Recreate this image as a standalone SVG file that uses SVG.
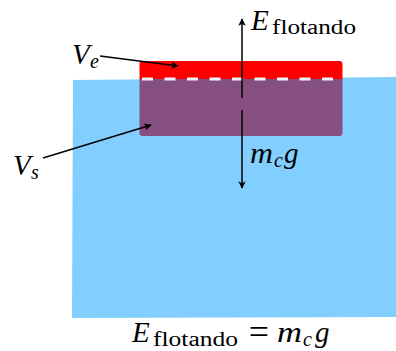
<svg xmlns="http://www.w3.org/2000/svg" width="396" height="351" viewBox="0 0 396 351">
<defs>
<style>
.m{font-family:"Liberation Serif",serif;font-style:italic;fill:#000}
.r{font-family:"Liberation Serif",serif;fill:#000}
.big{font-size:29px}
.sub{font-size:20px}
.ar{stroke:#000;stroke-width:1.5;fill:none;marker-end:url(#ah)}
</style>
<marker id="ah" viewBox="0 0 10 10" refX="9" refY="5" markerWidth="5" markerHeight="5" orient="auto" markerUnits="strokeWidth">
<path d="M0,0 L10,5 L0,10 L2.5,5 Z" fill="#000"/>
</marker>
</defs>
<g id="water">
<polygon points="73,80 396,77 396,317 72,318" fill="#82CFFF"/>
</g>
<g id="block">
<path d="M139.5,79 V64 a3,3 0 0 1 3,-3 H339.5 a3,3 0 0 1 3,3 V79 Z" fill="#FF0000"/>
<path d="M139.5,79 H342.5 V133 a3,3 0 0 1 -3,3 H142.5 a3,3 0 0 1 -3,-3 Z" fill="#854F7F"/>
<line x1="142" y1="79" x2="342" y2="79" stroke="#EEF6FF" stroke-width="3" stroke-dasharray="11,11.5"/>
</g>
<g id="connectors">
<line class="ar" x1="242" y1="98" x2="242" y2="19"/>
<line class="ar" x1="242" y1="110" x2="242" y2="188"/>
<line class="ar" x1="100" y1="56" x2="178" y2="66"/>
<line class="ar" x1="43" y1="158" x2="151" y2="125"/>
</g>
<g id="label-Ef-top">
<text class="m big" x="251" y="30">E</text>
<text class="r sub" x="272" y="34" textLength="84" lengthAdjust="spacingAndGlyphs">flotando</text>
</g>
<g id="label-Ve">
<text class="m big" x="72" y="64">V</text>
<text class="m sub" x="90" y="68">e</text>
</g>
<g id="label-Vs">
<text class="m big" x="13" y="175">V</text>
<text class="m sub" x="31" y="179">s</text>
</g>
<g id="label-mcg">
<text class="m big" x="250" y="163" textLength="23" lengthAdjust="spacingAndGlyphs">m</text>
<text class="m sub" x="274" y="167">c</text>
<text class="m big" x="284" y="163">g</text>
</g>
<g id="label-equation">
<text class="m big" x="132" y="342">E</text>
<text class="r sub" x="153" y="346" textLength="85" lengthAdjust="spacingAndGlyphs">flotando</text>
<text class="r" x="259" y="344" font-size="36" text-anchor="middle">=</text>
<text class="m big" x="277" y="342" textLength="25" lengthAdjust="spacingAndGlyphs">m</text>
<text class="m sub" x="303" y="346">c</text>
<text class="m big" x="315" y="342">g</text>
</g>
</svg>
